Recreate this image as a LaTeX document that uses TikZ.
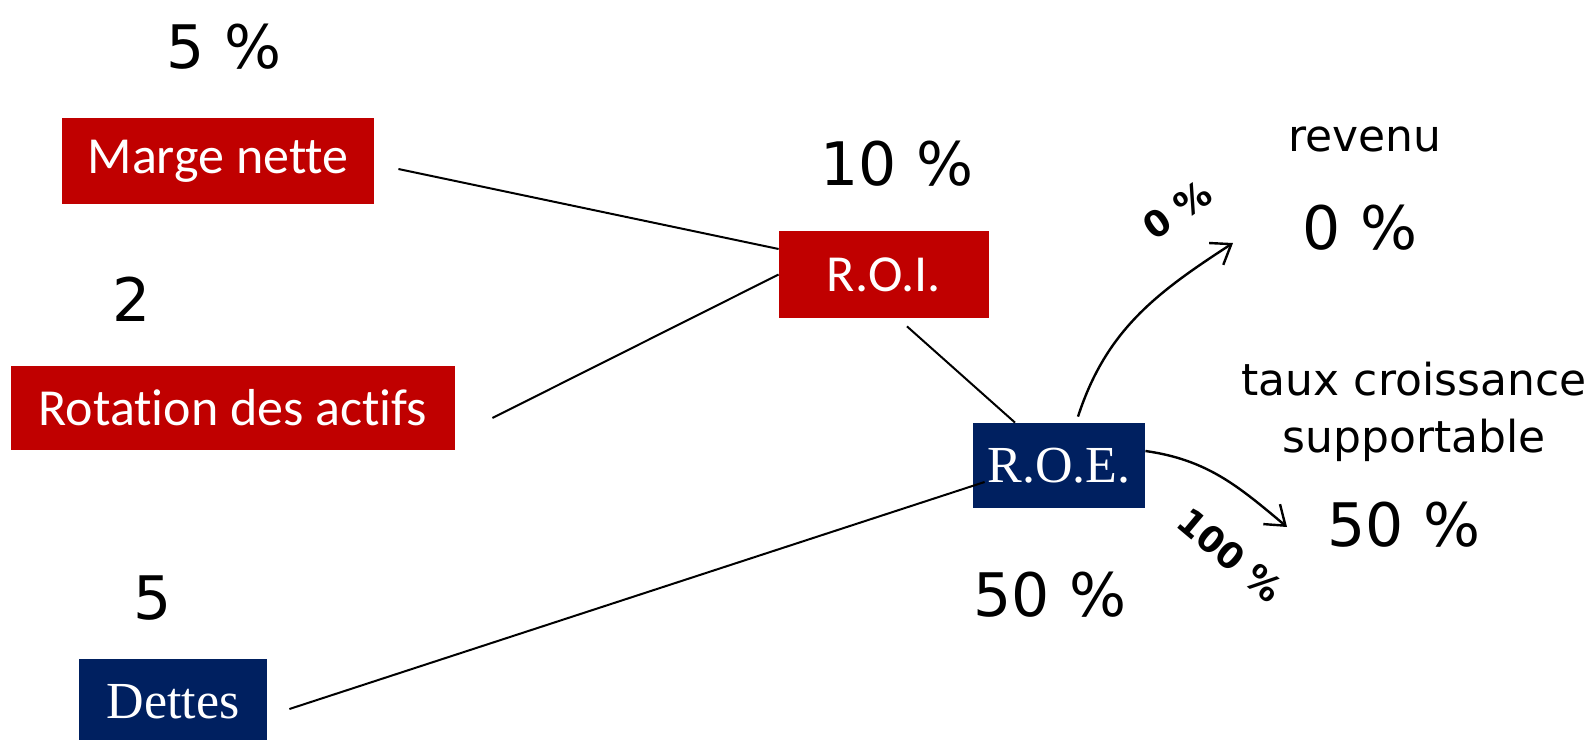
\documentclass[tikz,border=0pt]{standalone}
\usepackage{fontspec}
\setmainfont{DejaVu Sans}
\newfontfamily\boxfont[Ligatures={NoCommon}]{Carlito}
\newfontfamily\serfont{Liberation Serif}
\usepackage{tikz}
\usetikzlibrary{arrows.meta, calc}
\definecolor{boxred}{RGB}{192,0,0}
\definecolor{boxblue}{RGB}{0,32,96}
\tikzstyle{redbox}=[rectangle, fill=boxred, text=white, inner sep=0pt, font=\boxfont\fontsize{26}{31}\selectfont]
\tikzstyle{bluebox}=[rectangle, fill=boxblue, text=white, inner sep=0pt, font=\serfont\fontsize{26}{31}\selectfont]
\tikzstyle{value}=[anchor=base, inner sep=0pt, font=\fontsize{30}{36}\selectfont]
\tikzstyle{caption}=[anchor=base, inner sep=0pt, align=center, font=\fontsize{22}{28.5}\selectfont]
\tikzstyle{share}=[inner sep=0pt, font=\bfseries\fontsize{18}{20}\selectfont]
\tikzstyle{link}=[line width=1pt]
\tikzstyle{flow}=[line width=1.2pt, ->]

\begin{document}
\begin{tikzpicture}[x=0.5pt, y=-0.5pt, >={Straight Barb[length=9pt,width=13pt]}]
  \useasboundingbox (0,0) rectangle (1593,739);

  % ratios
  \node[redbox, minimum width=156pt, minimum height=43pt]   (mn)  at (218,161)   {Marge nette};
  \node[redbox, minimum width=222pt, minimum height=42pt]   (rot) at (233,408)   {Rotation des actifs};
  \node[bluebox, minimum width=94pt, minimum height=42.5pt] (det) at (173,701.5) {Dettes};
  \node[redbox, minimum width=105pt, minimum height=43.5pt] (roi) at (884,274.5) {R.O.I.};
  \node[bluebox, minimum width=86pt, minimum height=42.5pt] (roe) at (1059,465.5) {R.O.E.};

  % values
  \node[value] (vmn)  at (224,68)   {5 \%};
  \node[value] (vrot) at (132,321)  {2};
  \node[value] (vdet) at (153,619)  {5};
  \node[value] (vroi) at (897,185)  {10 \%};
  \node[value] (vroe) at (1050,616) {50 \%};

  % distribution
  \node[caption] (rev)  at (1365,151) {revenu};
  \node[value]   (vrev) at (1360,249) {0 \%};
  \node[caption] (tcs)  at (1414,452) {taux croissance\\supportable};
  \node[value]   (vtcs) at (1404,546) {50 \%};

  \coordinate (tip0)   at (1233,243);
  \coordinate (tip100) at (1287,527);

  \draw[link] ($(mn.east)+(24,8)$)   -- ($(roi.west)+(0,-25.5)$);
  \draw[link] ($(rot.east)+(37,10)$) -- (roi.west);
  \draw[link] ($(roi.south)+(23,8)$) -- ($(roe.north)+(-44,0)$);
  \draw[link] ($(det.east)+(22,7.5)$) -- ($(roe.west)+(12,16.5)$);

  \draw[flow] ($(roe.north)+(19,-6)$) to[out=72, in=213] (tip0);
  \draw[flow] ($(roe.east)+(0,-14.5)$) to[out=-8, in=140] (tip100);

  \node[share, rotate=35]  (p0)   at (1177,210) {0 \%};
  \node[share, rotate=-40] (p100) at (1230,555) {100 \%};
\end{tikzpicture}
\end{document}
